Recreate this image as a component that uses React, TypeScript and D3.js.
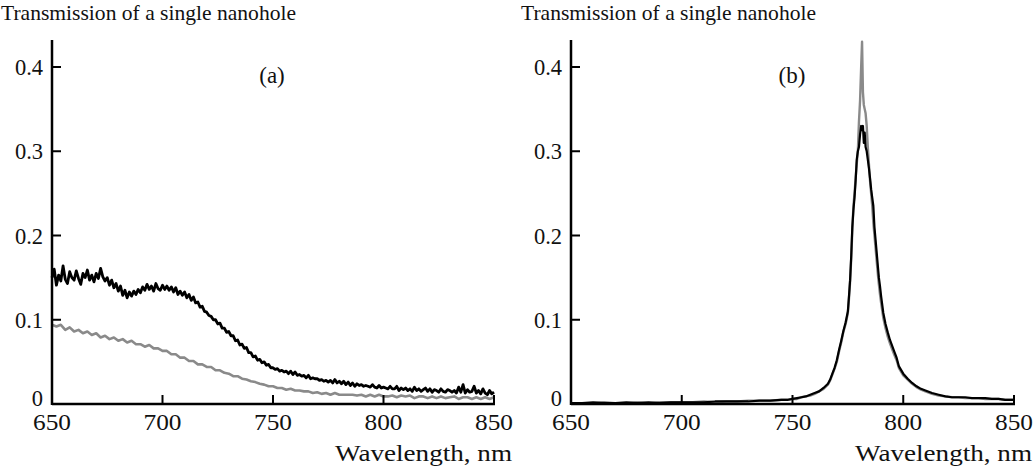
import React from 'react';
import * as d3 from 'd3';

// wavelength ticks and transmission ticks
const xTicks = [650, 700, 750, 800, 850];
const yTicks = [0, 0.1, 0.2, 0.3, 0.4];

// panel (a): black curve, 1 nm step from 650 nm
const aBlack = [
  0.150, 0.160, 0.141, 0.153, 0.146, 0.164, 0.148, 0.143, 0.157, 0.150,
  0.147, 0.158, 0.149, 0.142, 0.155, 0.150, 0.159, 0.147, 0.153, 0.145,
  0.155, 0.149, 0.161, 0.151, 0.146, 0.150, 0.141, 0.147, 0.138, 0.143,
  0.134, 0.140, 0.129, 0.135, 0.126, 0.133, 0.128, 0.134, 0.130, 0.136,
  0.132, 0.139, 0.135, 0.142, 0.136, 0.140, 0.134, 0.143, 0.137, 0.135,
  0.141, 0.136, 0.140, 0.135, 0.139, 0.133, 0.138, 0.130, 0.134, 0.129,
  0.133, 0.126, 0.130, 0.123, 0.127, 0.120, 0.121, 0.115, 0.116, 0.110,
  0.109, 0.105, 0.104, 0.100, 0.100, 0.095, 0.096, 0.090, 0.090, 0.085,
  0.086, 0.081, 0.081, 0.075, 0.076, 0.070, 0.071, 0.066, 0.067, 0.061,
  0.061, 0.056, 0.057, 0.052, 0.053, 0.049, 0.050, 0.046, 0.047, 0.043,
  0.043, 0.041, 0.042, 0.039, 0.040, 0.038, 0.039, 0.036, 0.039, 0.035,
  0.038, 0.034, 0.035, 0.033, 0.034, 0.031, 0.034, 0.030, 0.031, 0.030,
  0.030, 0.028, 0.029, 0.027, 0.028, 0.026, 0.028, 0.025, 0.029, 0.025,
  0.027, 0.024, 0.027, 0.023, 0.026, 0.022, 0.025, 0.021, 0.024, 0.022,
  0.023, 0.021, 0.022, 0.021, 0.020, 0.023, 0.020, 0.019, 0.022, 0.019,
  0.020, 0.019, 0.018, 0.021, 0.018, 0.018, 0.021, 0.016, 0.019, 0.017,
  0.019, 0.016, 0.018, 0.015, 0.020, 0.016, 0.018, 0.015, 0.017, 0.019,
  0.015, 0.018, 0.014, 0.017, 0.016, 0.014, 0.018, 0.015, 0.014, 0.017,
  0.016, 0.014, 0.016, 0.013, 0.020, 0.014, 0.023, 0.013, 0.017, 0.014,
  0.015, 0.021, 0.013, 0.016, 0.012, 0.018, 0.013, 0.011, 0.016, 0.012,
  0.014,
];

// panel (a): grey curve, 2 nm step from 650 nm
const aGray = [
  0.094, 0.092, 0.094, 0.088, 0.091, 0.086, 0.088, 0.084, 0.086, 0.082,
  0.084, 0.079, 0.081, 0.077, 0.079, 0.075, 0.077, 0.073, 0.075, 0.071,
  0.071, 0.068, 0.070, 0.066, 0.066, 0.063, 0.063, 0.059, 0.059, 0.055,
  0.055, 0.051, 0.051, 0.047, 0.047, 0.044, 0.044, 0.040, 0.040, 0.037,
  0.036, 0.033, 0.033, 0.030, 0.029, 0.027, 0.026, 0.024, 0.023, 0.021,
  0.021, 0.019, 0.019, 0.017, 0.018, 0.016, 0.016, 0.015, 0.015, 0.013,
  0.014, 0.012, 0.013, 0.011, 0.013, 0.011, 0.011, 0.011, 0.011, 0.010,
  0.011, 0.009, 0.011, 0.009, 0.011, 0.009, 0.009, 0.010, 0.008, 0.010,
  0.009, 0.010, 0.007, 0.009, 0.009, 0.007, 0.009, 0.007, 0.009, 0.007,
  0.008, 0.009, 0.006, 0.008, 0.008, 0.006, 0.008, 0.006, 0.008, 0.006,
  0.008,
];

// panel (b): sampled wavelengths (denser around the resonance)
const bWave = [
  650, 655, 660, 665, 670, 675, 680, 685, 690, 695,
  700, 705, 710, 715, 720, 725, 730, 735, 740, 745,
  748, 750, 752, 754, 756, 758, 760, 762, 764, 766,
  767, 768, 769, 770, 771, 772, 773, 774, 775,
  775.5, 776, 776.5, 777, 777.5, 778, 778.5, 779, 779.5, 780, 780.5, 781,
  781.4, 781.8, 782.2, 782.6, 783, 783.5, 784, 784.5, 785, 785.5,
  786, 786.5, 787, 787.5, 788, 788.5, 789, 789.5, 790,
  791, 792, 793, 794, 795, 796, 797, 798,
  800, 802, 804, 806, 808, 810, 813, 816, 819, 822,
  825, 828, 831, 834, 837, 840, 843, 846, 850,
];

const bBlack = [
  0.001, 0.001, 0.002, 0.001, 0.001, 0.002, 0.001, 0.002, 0.001, 0.002,
  0.002, 0.002, 0.002, 0.003, 0.003, 0.003, 0.003, 0.004, 0.004, 0.005,
  0.005, 0.006, 0.007, 0.008, 0.009, 0.011, 0.013, 0.015, 0.019, 0.024,
  0.029, 0.036, 0.043, 0.052, 0.064, 0.075, 0.087, 0.097, 0.110,
  0.128, 0.147, 0.175, 0.210, 0.230, 0.245, 0.265, 0.290, 0.300, 0.305, 0.320, 0.330,
  0.325, 0.330, 0.310, 0.322, 0.305, 0.300, 0.290, 0.280, 0.268, 0.255,
  0.245, 0.235, 0.210, 0.195, 0.180, 0.165, 0.150, 0.140, 0.128,
  0.108, 0.095, 0.085, 0.076, 0.069, 0.062, 0.055, 0.045,
  0.036, 0.030, 0.025, 0.021, 0.018, 0.016, 0.013, 0.011, 0.009, 0.008,
  0.008, 0.008, 0.007, 0.007, 0.007, 0.006, 0.006, 0.005, 0.005,
];

const bGray = [
  0.001, 0.001, 0.001, 0.002, 0.001, 0.001, 0.002, 0.001, 0.002, 0.002,
  0.002, 0.002, 0.003, 0.002, 0.003, 0.003, 0.004, 0.004, 0.004, 0.005,
  0.005, 0.006, 0.006, 0.008, 0.009, 0.010, 0.012, 0.015, 0.018, 0.023,
  0.028, 0.035, 0.042, 0.050, 0.062, 0.073, 0.086, 0.095, 0.108,
  0.125, 0.145, 0.172, 0.205, 0.235, 0.250, 0.268, 0.285, 0.300, 0.335, 0.360, 0.400,
  0.430, 0.370, 0.355, 0.350, 0.345, 0.330, 0.305, 0.285, 0.265, 0.250,
  0.235, 0.215, 0.200, 0.185, 0.170, 0.155, 0.142, 0.130, 0.120,
  0.102, 0.090, 0.080, 0.072, 0.065, 0.058, 0.052, 0.043,
  0.034, 0.029, 0.024, 0.020, 0.017, 0.015, 0.012, 0.010, 0.009, 0.008,
  0.008, 0.007, 0.007, 0.007, 0.006, 0.006, 0.006, 0.005, 0.005,
];

const aBlackWave = aBlack.map((_, i) => 650 + i);
const aGrayWave = aGray.map((_, i) => 650 + 2 * i);

const FONT = "'Liberation Serif', 'DejaVu Serif', serif";
const GRAY = '#8a8a8a';

type Series = { wave: number[]; vals: number[]; color: string; width: number };

const Panel = ({ left, right, titleX, tag, tagX, series }:
  { left: number; right: number; titleX: number; tag: string; tagX: number; series: Series[] }) => {
  const x = d3.scaleLinear().domain([650, 850]).range([left, right]);
  const y = d3.scaleLinear().domain([0, 0.4]).range([404, 67]);
  const line = d3.line<[number, number]>().x(d => x(d[0])).y(d => y(d[1]));

  return (
    <g style={{ fontFamily: FONT }} fill="#111">
      <text x={titleX} y={20} fontSize={22} textLength={295} lengthAdjust="spacingAndGlyphs">Transmission of a single nanohole</text>
      <text x={tagX} y={83} fontSize={23} textAnchor="middle">{tag}</text>

      {series.map((s, i) => (
        <path key={i} d={line(s.wave.map((w, j) => [w, s.vals[j]]))!}
          fill="none" stroke={s.color} strokeWidth={s.width} strokeLinejoin="round" />
      ))}

      <line x1={left} x2={left} y1={40} y2={405} stroke="#000" strokeWidth={2.5} />
      <line x1={left} x2={right + 1} y1={404} y2={404} stroke="#000" strokeWidth={2.5} />
      {xTicks.map(t => (
        <g key={t}>
          <line x1={x(t)} x2={x(t)} y1={404} y2={395} stroke="#000" strokeWidth={2} />
          <text x={x(t)} y={430} fontSize={22.5} textAnchor="middle" textLength={38} lengthAdjust="spacingAndGlyphs">{t}</text>
        </g>
      ))}
      {yTicks.map(t => (
        <g key={t}>
          <line x1={left} x2={left + 9} y1={y(t)} y2={y(t)} stroke="#000" strokeWidth={2} />
          <text x={left - 9} y={y(t) + (t === 0 ? 2 : 8)} fontSize={22.5} textAnchor="end">{t === 0 ? '0' : t.toFixed(1)}</text>
        </g>
      ))}
      <text x={right + 18} y={461} fontSize={23} textAnchor="end" textLength={177} lengthAdjust="spacingAndGlyphs">Wavelength, nm</text>
    </g>
  );
};

export default function App() {
  return (
    <svg width={1034} height={468} style={{ position: 'absolute', left: 0, top: 0, background: '#fff' }}>
      <rect width={1034} height={468} fill="#fff" />
      <Panel left={52} right={494} titleX={1} tag="(a)" tagX={272}
        series={[
          { wave: aGrayWave, vals: aGray, color: GRAY, width: 2.6 },
          { wave: aBlackWave, vals: aBlack, color: '#000', width: 2.8 },
        ]} />
      <Panel left={571} right={1014} titleX={521} tag="(b)" tagX={792}
        series={[
          { wave: bWave, vals: bGray, color: GRAY, width: 2.4 },
          { wave: bWave, vals: bBlack, color: '#000', width: 2.2 },
        ]} />
    </svg>
  );
}
